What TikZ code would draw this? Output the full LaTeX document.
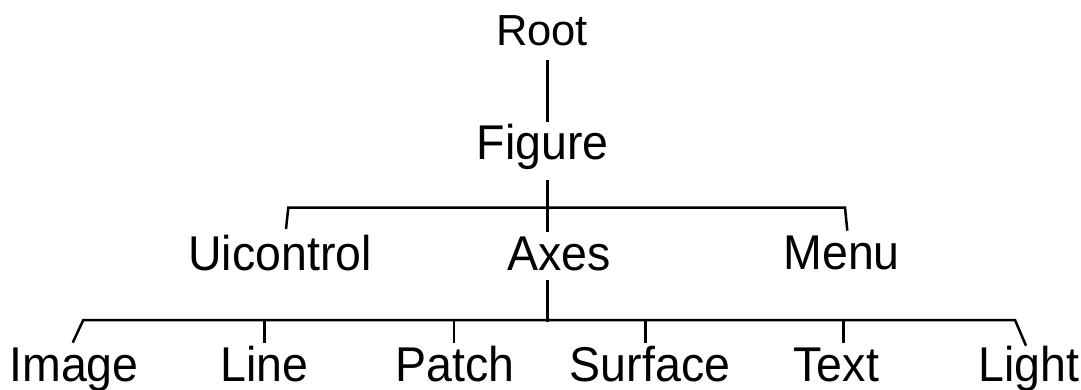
\documentclass[tikz,border=0pt]{standalone}
\usepackage{fontspec}
\setmainfont{Liberation Sans}
\newcommand{\vst}[1]{\scalebox{1}[1.05]{#1}}
\begin{document}
\begin{tikzpicture}[x=1pt,y=1pt,
  lbl/.style={inner sep=0pt,anchor=base,font=\fontsize{46.5}{50}\selectfont},
  rootlbl/.style={lbl,font=\fontsize{43.5}{47}\selectfont},
  conn/.style={line width=2.5pt,line cap=butt,line join=miter}]
\useasboundingbox (0,0) rectangle (1081,-389);
% nodes
\node[rootlbl] (root) at (542,-45.7) {Root};
\node[lbl] (figure) at (542.5,-159.3) {\vst{Figure}};
\node[lbl] (uicontrol) at (280,-270.5) {\vst{Uicontrol}};
\node[lbl] (axes) at (559,-270) {\vst{Axes}};
\node[lbl] (menu) at (841.7,-269.5) {\vst{Menu}};
\node[lbl] (image) at (74,-381.5) {\vst{Image}};
\node[lbl] (line) at (264.5,-381) {\vst{Line}};
\node[lbl] (patch) at (455,-381) {\vst{Patch}};
\node[lbl] (surface) at (650,-381) {\vst{Surface}};
\node[lbl] (text) at (836.3,-381) {\vst{Text}};
\node[lbl] (light) at (1028.7,-381) {\vst{Light}};
% coordinates
\coordinate (r1) at (547.3,-60);
\coordinate (f0) at (547.3,-121.7);
\coordinate (f1) at (547.3,-180);
\coordinate (f2) at (547.3,-231.7);
\coordinate (bl) at (288.3,-207.5);
\coordinate (br) at (845,-207.5);
\coordinate (u0) at (286,-229);
\coordinate (m0) at (847.3,-230.7);
\coordinate (a1) at (547.3,-280);
\coordinate (a2) at (547.3,-322);
\coordinate (cl) at (83.3,-320);
\coordinate (cr) at (1015,-320);
\coordinate (i0) at (72.7,-342.7);
\coordinate (l1) at (264.3,-320);
\coordinate (l0) at (264.3,-342.7);
\coordinate (p1) at (454,-320);
\coordinate (p0) at (454,-343.3);
\coordinate (s1) at (645.7,-320);
\coordinate (s0) at (645.7,-343.3);
\coordinate (t1) at (843.3,-320);
\coordinate (t0) at (843.3,-343.3);
\coordinate (g0) at (1026,-345.7);
% connectors
\draw[conn] (r1) -- (f0);
\draw[conn] (f1) -- (f2);
\draw[conn] (u0) -- (bl) -- (br) -- (m0);
\draw[conn] (a1) -- (a2);
\draw[conn] (i0) -- (cl) -- (cr) -- (g0);
\draw[conn] (l1) -- (l0);
\draw[conn] (p1) -- (p0);
\draw[conn] (s1) -- (s0);
\draw[conn] (t1) -- (t0);
\end{tikzpicture}
\end{document}
